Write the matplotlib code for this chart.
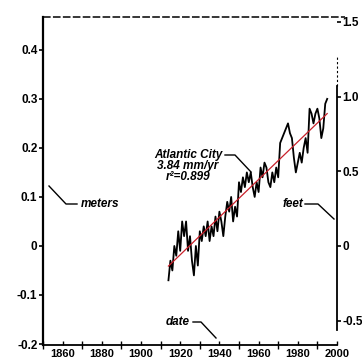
import numpy as np
import matplotlib
matplotlib.use("Agg")
from matplotlib import pyplot as plt

plt.rcParams['font.family'] = ['Liberation Sans', 'DejaVu Sans']

# annual mean sea level, Atlantic City (meters)
years = np.arange(1914, 1996)
sea_level_m = [
    -0.07, -0.03, -0.05, 0.00, -0.02, 0.03, -0.01, 0.05, 0.02, 0.05,
    -0.01, 0.02, -0.03, -0.06, 0.00, -0.04, 0.03, 0.01, 0.04, 0.02,
    0.05, 0.01, 0.04, 0.02, 0.06, 0.03, 0.07, 0.05, 0.02, 0.06,
    0.09, 0.07, 0.10, 0.05, 0.08, 0.06, 0.13, 0.11, 0.14, 0.12,
    0.15, 0.13, 0.15, 0.12, 0.10, 0.13, 0.11, 0.16, 0.14, 0.17,
    0.16, 0.13, 0.12, 0.15, 0.13, 0.16, 0.14, 0.21, 0.22, 0.23,
    0.24, 0.25, 0.23, 0.22, 0.18, 0.15, 0.17, 0.19, 0.17, 0.20,
    0.22, 0.19, 0.28, 0.27, 0.25, 0.27, 0.28, 0.26, 0.22, 0.24,
    0.29, 0.30,
]

m_ticks = [-0.2, -0.1, 0, 0.1, 0.2, 0.3, 0.4]
m_labels = ["-0.2", "-0.1", "0", "0.1", "0.2", "0.3", "0.4"]
ft_ticks = [-0.5, 0, 0.5, 1.0, 1.5]
ft_labels = ["-0.5", "0", "0.5", "1.0", "1.5"]
year_ticks = [1860, 1880, 1900, 1920, 1940, 1960, 1980, 2000]

FT = 0.3048
ylo, yhi = -0.202, 0.467

fig = plt.figure(figsize=(3.62, 3.62), dpi=100)
ax = fig.add_axes([43 / 362, 17 / 362, 294 / 362, 328 / 362])

ax.plot(years, sea_level_m, color='black', lw=1.3)
slope, icpt = np.polyfit(years, sea_level_m, 1)
ax.plot(years, slope * years + icpt, color='#c8202a', lw=0.9)

ax.set_xlim(1850, 2000)
ax.set_ylim(ylo, yhi)

ax.set_yticks(m_ticks)
ax.set_yticklabels(m_labels)
ax.set_xticks(year_ticks)
ax.set_xticklabels([str(y) for y in year_ticks])
ax.set_xticks(np.arange(1850, 2001, 20), minor=True)

ax.tick_params(axis='y', direction='out', length=3, width=1.2, pad=1,
               labelsize=8.5)
ax.tick_params(axis='x', which='major', direction='in', length=3, width=1,
               pad=3, labelsize=8)
ax.tick_params(axis='x', which='minor', direction='inout', length=6, width=1)
for lab in ax.get_xticklabels() + ax.get_yticklabels():
    lab.set_fontweight('bold')

for side in ['top', 'right']:
    ax.spines[side].set_visible(False)
ax.spines['left'].set_linewidth(1.6)
ax.spines['bottom'].set_linewidth(1.3)

# dashed top border running past the right axis
ax.plot([0, 1.027], [1, 1], transform=ax.transAxes, clip_on=False,
        color='black', lw=1.1, ls=(0, (5, 1.5)))

# right axis in feet
ax2 = ax.twinx()
ax2.set_ylim(ylo / FT, yhi / FT)
ax2.set_yticks(ft_ticks)
ax2.set_yticklabels(ft_labels)
ax2.tick_params(axis='y', direction='out', length=3, width=1.2, pad=1,
                labelsize=8.5)
for lab in ax2.get_yticklabels():
    lab.set_fontweight('bold')
for side in ['top', 'left', 'bottom']:
    ax2.spines[side].set_visible(False)
ax2.spines['right'].set_bounds(-0.56, 1.07)
ax2.spines['right'].set_linewidth(1.3)
ax2.plot([1, 1], [1.07, 1.28], transform=ax2.get_yaxis_transform(),
         clip_on=False, color='black', lw=0.8, ls=(0, (2, 2)))

# annotations
afont = dict(fontsize=8.5, fontweight='bold', style='italic')
fig.text(81 / 362, 1 - 204 / 362, "meters", va='center', ha='left', **afont)
fig.add_artist(plt.Line2D([49 / 362, 66 / 362, 77 / 362],
                          [1 - 186 / 362, 1 - 204 / 362, 1 - 204 / 362],
                          color='black', lw=1))
fig.text(188 / 362, 1 - 155 / 362, "Atlantic City", va='center', ha='center',
         **afont)
fig.text(188 / 362, 1 - 166 / 362, "3.84 mm/yr", va='center', ha='center',
         **afont)
fig.text(188 / 362, 1 - 177 / 362, "r\u00b2=0.899", va='center', ha='center',
         **afont)
fig.add_artist(plt.Line2D([225 / 362, 235 / 362, 251 / 362],
                          [1 - 155 / 362, 1 - 155 / 362, 1 - 172 / 362],
                          color='black', lw=1))
fig.text(303 / 362, 1 - 204 / 362, "feet", va='center', ha='right', **afont)
fig.add_artist(plt.Line2D([305 / 362, 318 / 362, 334 / 362],
                          [1 - 204 / 362, 1 - 204 / 362, 1 - 219 / 362],
                          color='black', lw=1))
fig.text(190 / 362, 1 - 322 / 362, "date", va='center', ha='right', **afont)
fig.add_artist(plt.Line2D([193 / 362, 201 / 362, 216 / 362],
                          [1 - 322 / 362, 1 - 322 / 362, 1 - 338 / 362],
                          color='black', lw=1))

fig.savefig("out.png", dpi=100)
